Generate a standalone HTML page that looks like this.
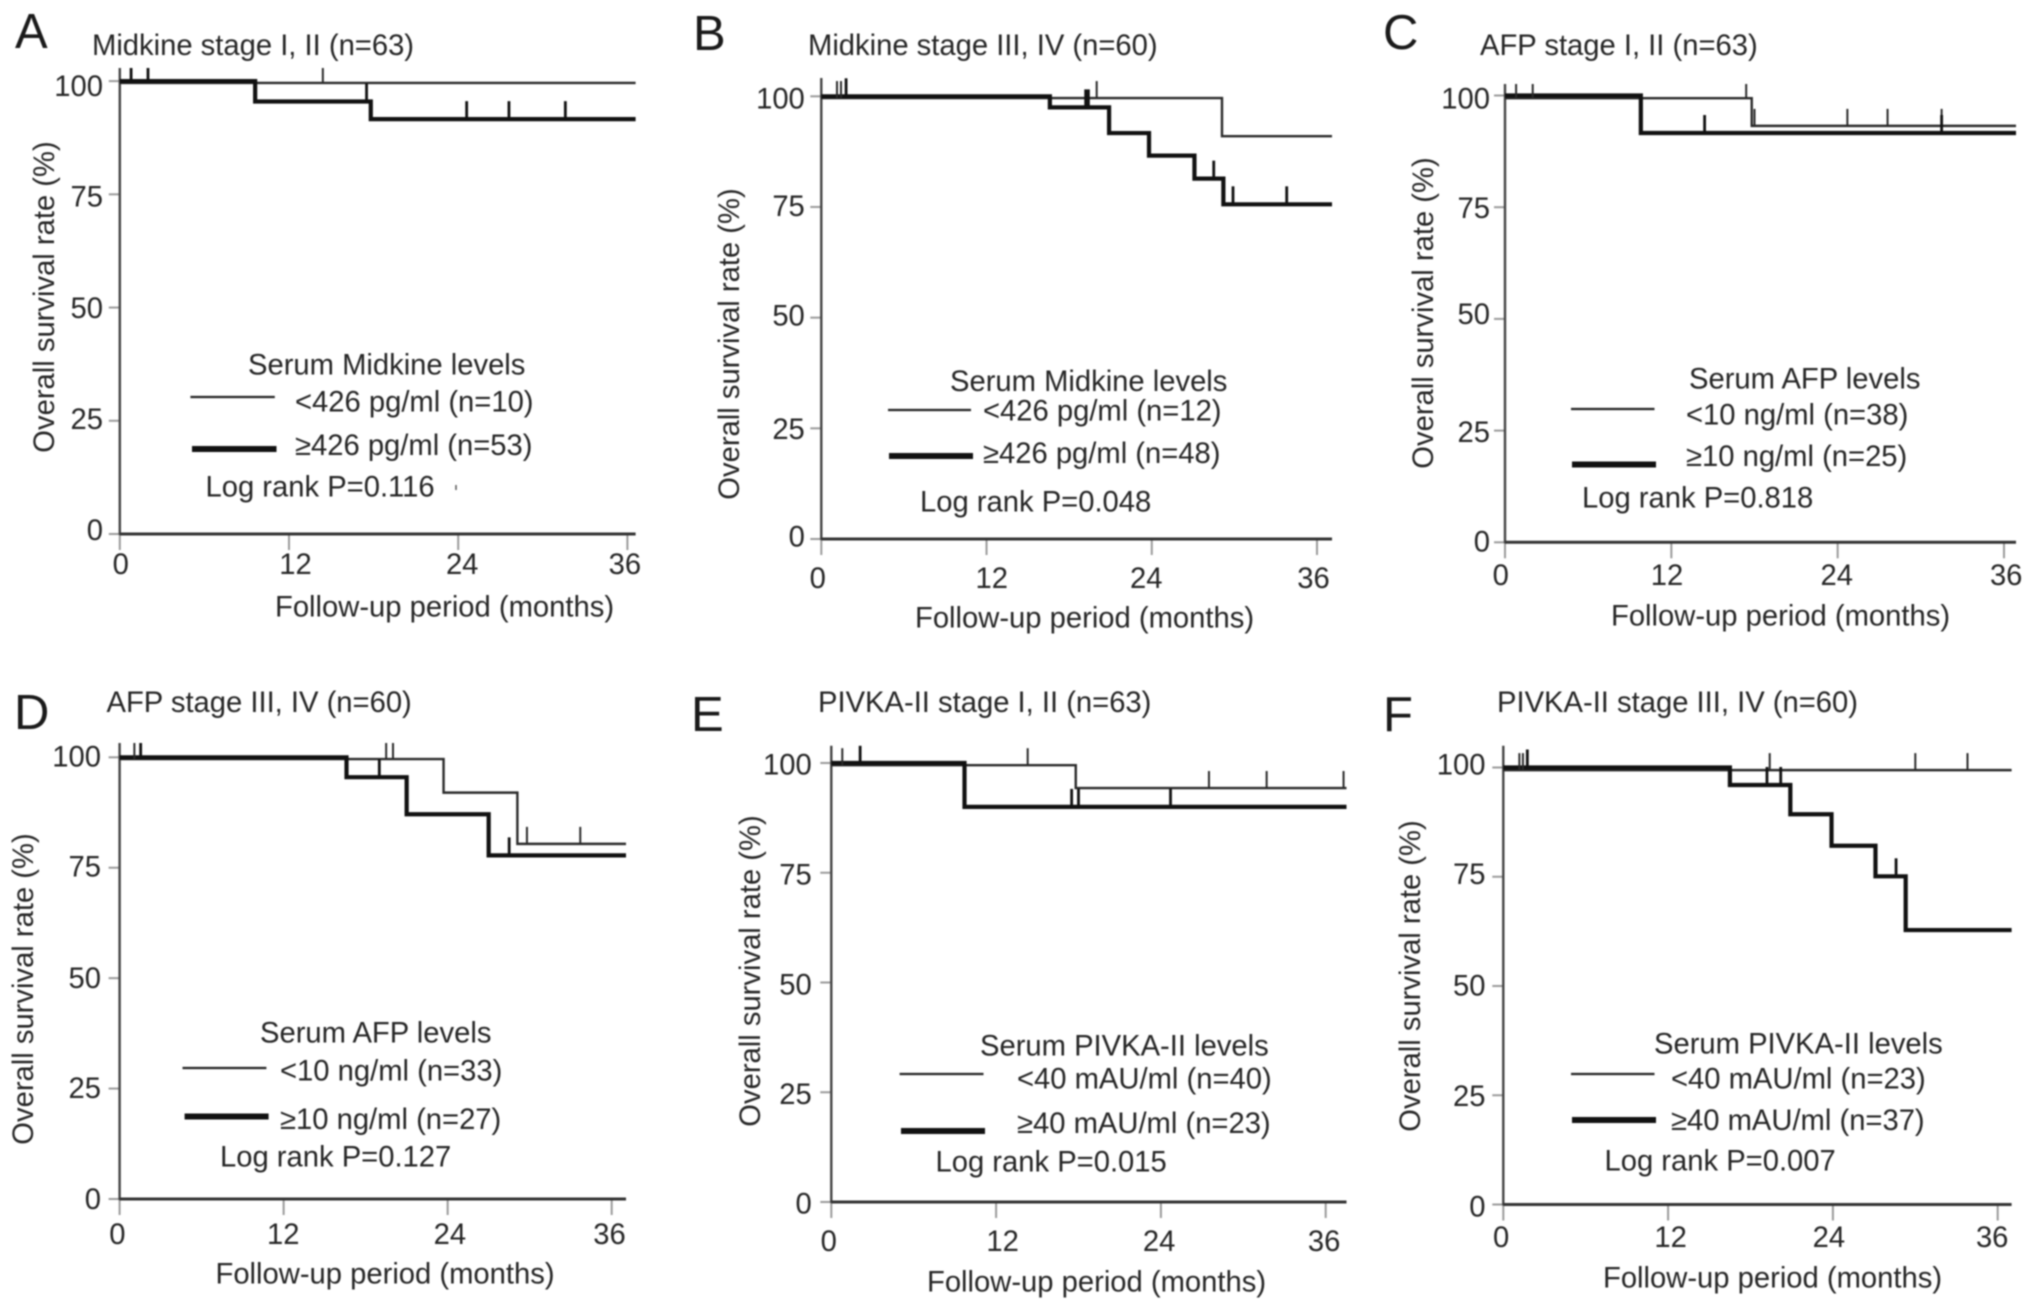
<!DOCTYPE html>
<html lang="en">
<head>
<meta charset="utf-8">
<title>Overall survival by serum marker levels</title>
<style>
html,body{margin:0;padding:0;background:#fff;width:2032px;height:1310px;overflow:hidden}
svg{display:block;filter:blur(0.75px)}
text{font-family:"Liberation Sans",Arial,sans-serif;font-size:29.2px;fill:#262626}
.letter{font-size:49px;fill:#1a1a1a}
</style>
</head>
<body>
<svg id="figure" xmlns="http://www.w3.org/2000/svg" width="2032" height="1310" viewBox="0 0 2032 1310">
<rect width="2032" height="1310" fill="#fff"/>

<g id="panel-a">
<text class="letter" x="15" y="48">A</text>
<text x="92" y="55">Midkine stage I, II (n=63)</text>
<text transform="translate(54,297) rotate(-90)" text-anchor="middle">Overall survival rate (%)</text>
<text x="275" y="616.5">Follow-up period (months)</text>
<text x="248" y="374.5">Serum Midkine levels</text>
<line x1="190.4" x2="274.8" y1="397" y2="397" stroke="#222" stroke-width="2.2"/>
<text x="295" y="411.5">&lt;426 pg/ml (n=10)</text>
<line x1="192" x2="276.5" y1="449" y2="449" stroke="#111" stroke-width="6"/>
<text x="295" y="455">≥426 pg/ml (n=53)</text>
<text x="205.5" y="496.5">Log rank P=0.116</text>
<line x1="456" x2="456" y1="485" y2="490" stroke="#555" stroke-width="1.5"/>
</g>

<g id="panel-b">
<text class="letter" x="693" y="50">B</text>
<text x="808" y="55">Midkine stage III, IV (n=60)</text>
<text transform="translate(739,344) rotate(-90)" text-anchor="middle">Overall survival rate (%)</text>
<text x="915" y="627.5">Follow-up period (months)</text>
<text x="950" y="391">Serum Midkine levels</text>
<line x1="888" x2="971" y1="410" y2="410" stroke="#222" stroke-width="2.2"/>
<text x="983" y="420.5">&lt;426 pg/ml (n=12)</text>
<line x1="889" x2="973" y1="456" y2="456" stroke="#111" stroke-width="6"/>
<text x="983" y="463">≥426 pg/ml (n=48)</text>
<text x="920" y="511.5">Log rank P=0.048</text>
</g>

<g id="panel-c">
<text class="letter" x="1383" y="49">C</text>
<text x="1480" y="55">AFP stage I, II (n=63)</text>
<text transform="translate(1433,313) rotate(-90)" text-anchor="middle">Overall survival rate (%)</text>
<text x="1611" y="625.5">Follow-up period (months)</text>
<text x="1689" y="388.5">Serum AFP levels</text>
<line x1="1571" x2="1654.5" y1="409" y2="409" stroke="#222" stroke-width="2.2"/>
<text x="1686" y="424.5">&lt;10 ng/ml (n=38)</text>
<line x1="1572" x2="1656" y1="464.5" y2="464.5" stroke="#111" stroke-width="6"/>
<text x="1686" y="466">≥10 ng/ml (n=25)</text>
<text x="1582" y="507.5">Log rank P=0.818</text>
</g>

<g id="panel-d">
<text class="letter" x="14" y="729">D</text>
<text x="106.5" y="712">AFP stage III, IV (n=60)</text>
<text transform="translate(33,989) rotate(-90)" text-anchor="middle">Overall survival rate (%)</text>
<text x="215.5" y="1283.5">Follow-up period (months)</text>
<text x="260" y="1042.5">Serum AFP levels</text>
<line x1="182.5" x2="266.4" y1="1068" y2="1068" stroke="#222" stroke-width="2.2"/>
<text x="280" y="1080.5">&lt;10 ng/ml (n=33)</text>
<line x1="184.6" x2="268.6" y1="1116.5" y2="1116.5" stroke="#111" stroke-width="6"/>
<text x="280" y="1129">≥10 ng/ml (n=27)</text>
<text x="220" y="1166.5">Log rank P=0.127</text>
</g>

<g id="panel-e">
<text class="letter" x="691" y="731">E</text>
<text x="818" y="712">PIVKA-II stage I, II (n=63)</text>
<text transform="translate(760,971) rotate(-90)" text-anchor="middle">Overall survival rate (%)</text>
<text x="927" y="1291.5">Follow-up period (months)</text>
<text x="980" y="1055.5">Serum PIVKA-II levels</text>
<line x1="899.6" x2="983.5" y1="1074" y2="1074" stroke="#222" stroke-width="2.2"/>
<text x="1017" y="1088.5">&lt;40 mAU/ml (n=40)</text>
<line x1="901" x2="985" y1="1131" y2="1131" stroke="#111" stroke-width="6"/>
<text x="1017" y="1133">≥40 mAU/ml (n=23)</text>
<text x="935.5" y="1171.5">Log rank P=0.015</text>
</g>

<g id="panel-f">
<text class="letter" x="1383" y="731">F</text>
<text x="1497" y="712">PIVKA-II stage III, IV (n=60)</text>
<text transform="translate(1420,976) rotate(-90)" text-anchor="middle">Overall survival rate (%)</text>
<text x="1603" y="1287.5">Follow-up period (months)</text>
<text x="1654" y="1053.5">Serum PIVKA-II levels</text>
<line x1="1571" x2="1654.5" y1="1074" y2="1074" stroke="#222" stroke-width="2.2"/>
<text x="1671" y="1088.5">&lt;40 mAU/ml (n=23)</text>
<line x1="1572" x2="1656" y1="1120" y2="1120" stroke="#111" stroke-width="6"/>
<text x="1671" y="1130">≥40 mAU/ml (n=37)</text>
<text x="1604.5" y="1170.5">Log rank P=0.007</text>
</g>
</svg>

<script>
// Axis tick values shared by all panels
const xTickValues = [0, 12, 24, 36];
const yTickValues = [0, 25, 50, 75, 100];

// Panel A: Midkine stage I, II
const aLowMonths = [0];
const aLowSurvival = [99.6];
const aLowCensored = [14.4];
const aHighMonths = [0, 9.6, 17.8];
const aHighSurvival = [100, 95.5, 91.6];
const aHighCensored = [0.8, 2.0, 17.5, 24.6, 27.6, 31.6];

// Panel B: Midkine stage III, IV
const bLowMonths = [0, 29.1];
const bLowSurvival = [99.6, 91];
const bLowCensored = [1.14, 1.43, 20.0];
const bHighMonths = [0, 16.6, 20.9, 23.8, 27.1, 29.2];
const bHighSurvival = [100, 97.5, 91.7, 86.6, 81.4, 75.6];
const bHighCensored = [1.8, 19.2, 19.4, 28.5, 29.9, 33.8];

// Panel C: AFP stage I, II
const cLowMonths = [0, 17.8];
const cLowSurvival = [99.4, 93.2];
const cLowCensored = [0.8, 2.0, 17.4, 18.0, 24.7, 27.6, 31.5];
const cHighMonths = [0, 9.8];
const cHighSurvival = [100, 91.6];
const cHighCensored = [14.4, 31.5];

// Panel D: AFP stage III, IV
const dLowMonths = [0, 23.7, 29.1];
const dLowSurvival = [99.6, 92, 80.4];
const dLowCensored = [1.08, 19.5, 20.0, 29.8, 33.7];
const dHighMonths = [0, 16.6, 21, 27];
const dHighSurvival = [100, 95.5, 87.1, 77.8];
const dHighCensored = [1.54, 19.0, 28.5];

// Panel E: PIVKA-II stage I, II
const eLowMonths = [0, 17.8];
const eLowSurvival = [99.5, 94.3];
const eLowCensored = [0.8, 14.3, 27.5, 31.7, 37.3];
const eHighMonths = [0, 9.7];
const eHighSurvival = [100, 90];
const eHighCensored = [2.1, 17.5, 18.0, 24.7];

// Panel F: PIVKA-II stage III, IV
const fLowMonths = [0];
const fLowSurvival = [99.4];
const fLowCensored = [1.17, 1.43, 19.4, 30.0, 33.8];
const fHighMonths = [0, 16.5, 20.9, 23.9, 27.1, 29.3];
const fHighSurvival = [100, 96, 89.3, 82.1, 75.1, 62.8];
const fHighCensored = [1.75, 19.2, 20.2, 28.6];

// Pixel layout of each panel's axes (not data)
const panelLayouts = [
  {id:'a', x0:119.8,  x36:627.4,  xEnd:635.6,  y100:81.1,  y0:534,    yTop:68,
   yLabelRight:103,    yLabelDy:[6,8,10.6,12.2,14.9],    xLabelY:574,  xLabelDx:[1,6.5,4,-2.5]},
  {id:'b', x0:821.3,  x36:1317,   xEnd:1332,   y100:96.3,  y0:539,    yTop:78,
   yLabelRight:804.8,  yLabelDy:[7.4,10.8,8,8.9,12.3],   xLabelY:588,  xLabelDx:[-3.5,5.2,-5.5,-3.5]},
  {id:'c', x0:1505,   x36:2004,   xEnd:2016,   y100:95.5,  y0:542.3,  yTop:84,
   yLabelRight:1490,   yLabelDy:[9.2,11.6,5.2,10.8,13.1], xLabelY:585, xLabelDx:[-4.3,-4.3,-0.9,2.2]},
  {id:'d', x0:119.6,  x36:611.7,  xEnd:626,    y100:757.3, y0:1199,   yTop:743,
   yLabelRight:101,    yLabelDy:[10,9.4,9.6,8.8,9],      xLabelY:1244, xLabelDx:[-2.2,-0.4,2.2,-2.2]},
  {id:'e', x0:831.3,  x36:1325.7, xEnd:1346.5, y100:763,   y0:1202,   yTop:745.8,
   yLabelRight:811.7,  yLabelDy:[11.5,11.7,12.1,11.6,11.7], xLabelY:1251, xLabelDx:[-2.6,6.5,-1.8,-1.6]},
  {id:'f', x0:1503.3, x36:1997.7, xEnd:2011.6, y100:767.5, y0:1204.5, yTop:745.8,
   yLabelRight:1485.5, yLabelDy:[12.2,10.9,9.6,7.2,7.2], xLabelY:1247, xLabelDx:[-2.2,2.5,-4,-5.5]}
];

const panelSeries = {
  a:{lowM:aLowMonths, lowS:aLowSurvival, lowC:aLowCensored, highM:aHighMonths, highS:aHighSurvival, highC:aHighCensored},
  b:{lowM:bLowMonths, lowS:bLowSurvival, lowC:bLowCensored, highM:bHighMonths, highS:bHighSurvival, highC:bHighCensored},
  c:{lowM:cLowMonths, lowS:cLowSurvival, lowC:cLowCensored, highM:cHighMonths, highS:cHighSurvival, highC:cHighCensored},
  d:{lowM:dLowMonths, lowS:dLowSurvival, lowC:dLowCensored, highM:dHighMonths, highS:dHighSurvival, highC:dHighCensored},
  e:{lowM:eLowMonths, lowS:eLowSurvival, lowC:eLowCensored, highM:eHighMonths, highS:eHighSurvival, highC:eHighCensored},
  f:{lowM:fLowMonths, lowS:fLowSurvival, lowC:fLowCensored, highM:fHighMonths, highS:fHighSurvival, highC:fHighCensored}
};

const SVG_NS = 'http://www.w3.org/2000/svg';
const LOW_CENSOR_LENGTH = 17;
const HIGH_CENSOR_LENGTH = 18;

function makeEl(parent, tag, attrs) {
  const el = document.createElementNS(SVG_NS, tag);
  for (const key in attrs) el.setAttribute(key, attrs[key]);
  parent.appendChild(el);
  return el;
}

function levelAt(months, survival, m) {
  let level = survival[0];
  for (let i = 0; i < months.length; i++) {
    if (months[i] <= m) level = survival[i];
  }
  return level;
}

function stepPath(months, survival, xScale, yScale, xEnd) {
  let d = 'M' + xScale(months[0]) + ' ' + yScale(survival[0]);
  for (let i = 1; i < months.length; i++) {
    d += 'H' + xScale(months[i]) + 'V' + yScale(survival[i]);
  }
  return d + 'H' + xEnd;
}

function drawPanel(layout) {
  const series = panelSeries[layout.id];
  const group = document.getElementById('panel-' + layout.id);
  const xScale = function (m) { return layout.x0 + (layout.x36 - layout.x0) * m / 36; };
  const yScale = function (s) { return layout.y0 + (layout.y100 - layout.y0) * s / 100; };

  yTickValues.forEach(function (v, i) {
    const tick = makeEl(group, 'line', {x1: layout.x0 - 11, x2: layout.x0, y1: yScale(v), y2: yScale(v), stroke: '#9a9a9a', 'stroke-width': 2});
    
    
    const label = makeEl(group, 'text', {x: layout.yLabelRight, y: yScale(v) + layout.yLabelDy[i], 'text-anchor': 'end'});
    label.textContent = String(v);
    
    
  });

  xTickValues.forEach(function (v, i) {
    const tick = makeEl(group, 'line', {x1: xScale(v), x2: xScale(v), y1: layout.y0, y2: layout.y0 + 16, stroke: '#9a9a9a', 'stroke-width': 2});
    
    
    const label = makeEl(group, 'text', {x: xScale(v) + layout.xLabelDx[i], y: layout.xLabelY, 'text-anchor': 'middle'});
    label.textContent = String(v);
    
    
  });

  const yAxis = makeEl(group, 'line', {x1: layout.x0, x2: layout.x0, y1: layout.yTop, y2: layout.y0 + 1, stroke: '#444', 'stroke-width': 2.4});
  
  

  const xAxis = makeEl(group, 'line', {x1: layout.x0, x2: layout.xEnd, y1: layout.y0, y2: layout.y0, stroke: '#333', 'stroke-width': 3});
  
  

  const lowCurve = makeEl(group, 'path', {d: stepPath(series.lowM, series.lowS, xScale, yScale, layout.xEnd), fill: 'none', stroke: '#2a2a2a', 'stroke-width': 2.4});
  
  

  const highCurve = makeEl(group, 'path', {d: stepPath(series.highM, series.highS, xScale, yScale, layout.xEnd), fill: 'none', stroke: '#111', 'stroke-width': 4.2});
  
  

  series.lowC.forEach(function (m) {
    const y = yScale(levelAt(series.lowM, series.lowS, m));
    const top = Math.max(y - LOW_CENSOR_LENGTH, layout.yTop);
    const mark = makeEl(group, 'line', {x1: xScale(m), x2: xScale(m), y1: y, y2: top, stroke: '#2a2a2a', 'stroke-width': 2});
    
    
  });

  series.highC.forEach(function (m) {
    const y = yScale(levelAt(series.highM, series.highS, m));
    const top = Math.max(y - HIGH_CENSOR_LENGTH, layout.yTop);
    const mark = makeEl(group, 'line', {x1: xScale(m), x2: xScale(m), y1: y, y2: top, stroke: '#111', 'stroke-width': 2.8});
    
    
  });
}

panelLayouts.forEach(drawPanel);
</script>
</body>
</html>
